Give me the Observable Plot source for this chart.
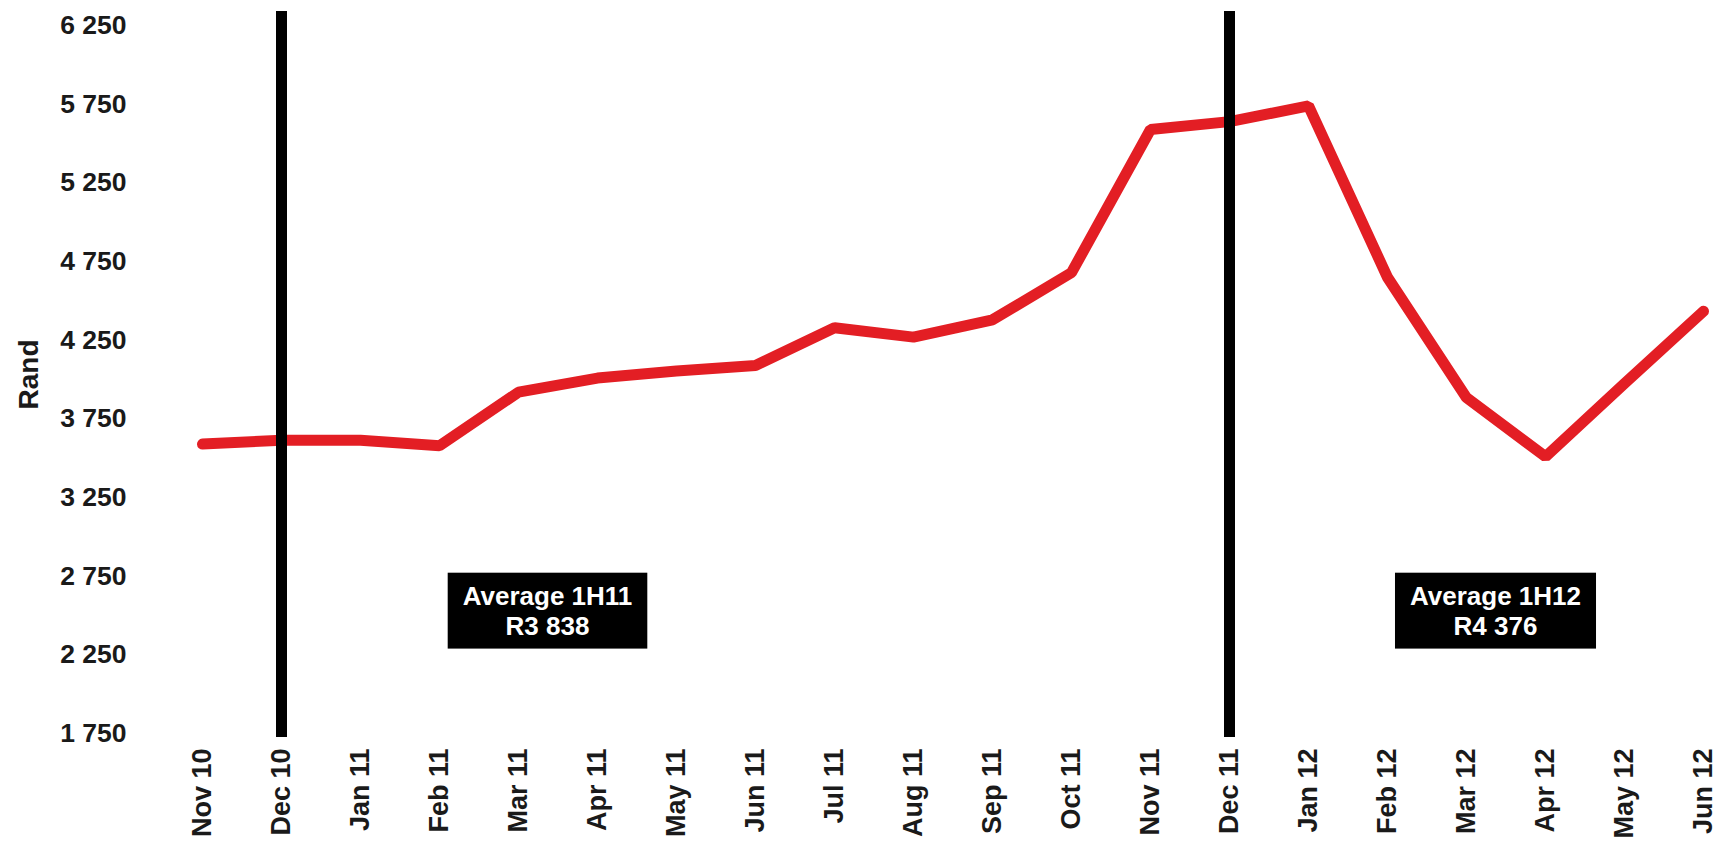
<!DOCTYPE html>
<html>
<head>
<meta charset="utf-8">
<script src="https://cdn.jsdelivr.net/npm/d3@7"></script>
<script src="https://cdn.jsdelivr.net/npm/@observablehq/plot@0.6"></script>
<style>
html, body { margin: 0; padding: 0; background: #fff; }
#chart svg { display: block; }
</style>
</head>
<body>
<div id="chart"></div>
<script>
// ---- data ----
const months = ["Nov 10", "Dec 10", "Jan 11", "Feb 11", "Mar 11", "Apr 11", "May 11", "Jun 11",
  "Jul 11", "Aug 11", "Sep 11", "Oct 11", "Nov 11", "Dec 11", "Jan 12", "Feb 12",
  "Mar 12", "Apr 12", "May 12", "Jun 12"];
const rand = [3590, 3615, 3615, 3580, 3920, 4010, 4055, 4090, 4330, 4270, 4380, 4680,
  5590, 5640, 5740, 4650, 3885, 3510, 3975, 4435];
const yTicks = [1750, 2250, 2750, 3250, 3750, 4250, 4750, 5250, 5750, 6250];
const markerMonths = ["Dec 10", "Dec 11"];
const annMonths = ["Mar 11", "Mar 12"];
const annValues = [2535, 2535];
const annTexts = ["Average 1H11\nR3 838", "Average 1H12\nR4 376"];
const yLabel = "Rand";

const series = months.map((m, i) => ({ month: m, value: rand[i] }));
const annotations = annMonths.map((m, i) => ({ month: m, value: annValues[i], text: annTexts[i] }));
const fmt = d => d3.format(",")(d).replace(/,/g, " ");

const chart = Plot.plot({
  width: 1726,
  height: 841,
  marginLeft: 197,
  marginRight: 19,
  marginTop: 11,
  marginBottom: 104,
  style: {
    fontFamily: "'Liberation Sans', Arial, sans-serif",
    fontWeight: "bold",
    fontSize: "26.5px",
    color: "#1a1a1a",
    background: "#fff"
  },
  x: { type: "point", domain: months, padding: 0, label: null, tickSize: 0, tickPadding: 11, tickRotate: -90 },
  y: { domain: [1725, 6340], ticks: yTicks, tickFormat: fmt, tickSize: 0, tickPadding: 71, label: null },
  marks: [
    Plot.line(series, { x: "month", y: "value", stroke: "#e31e24", strokeWidth: 11, strokeLinecap: "round", strokeLinejoin: "miter" }),
    Plot.ruleX(markerMonths, { x: d => d, stroke: "#000", strokeWidth: 11 }),
    Plot.text(annotations, { x: "month", y: "value", text: "text", dx: 29, fill: "white", fontSize: 26, fontWeight: "bold", lineHeight: 1.15 }),
    Plot.text([yLabel], { frameAnchor: "left", text: d => d, rotate: -90, dx: -168, dy: 35, fontSize: 28, fontWeight: "bold", fill: "#1a1a1a" })
  ]
});

document.getElementById("chart").append(chart);

// slightly larger month labels on the x axis
chart.querySelectorAll('g[aria-label^="x-axis"] text').forEach(t => { t.style.fontSize = "27px"; });

// black background boxes behind the (white) annotation labels
Array.from(chart.querySelectorAll("text")).forEach(function (t) {
  const f = getComputedStyle(t).fill;
  if (f !== "rgb(255, 255, 255)" && f !== "white") return;
  const b = t.getBBox();
  const padX = 15, padY = 8;
  const r = document.createElementNS("http://www.w3.org/2000/svg", "rect");
  r.setAttribute("x", b.x - padX);
  r.setAttribute("y", b.y - padY);
  r.setAttribute("width", b.width + 2 * padX);
  r.setAttribute("height", b.height + 2 * padY);
  r.setAttribute("fill", "#000");
  r.setAttribute("stroke", "none");
  const tr = t.getAttribute("transform");
  if (tr) r.setAttribute("transform", tr);
  t.parentNode.insertBefore(r, t);
});
</script>
</body>
</html>
